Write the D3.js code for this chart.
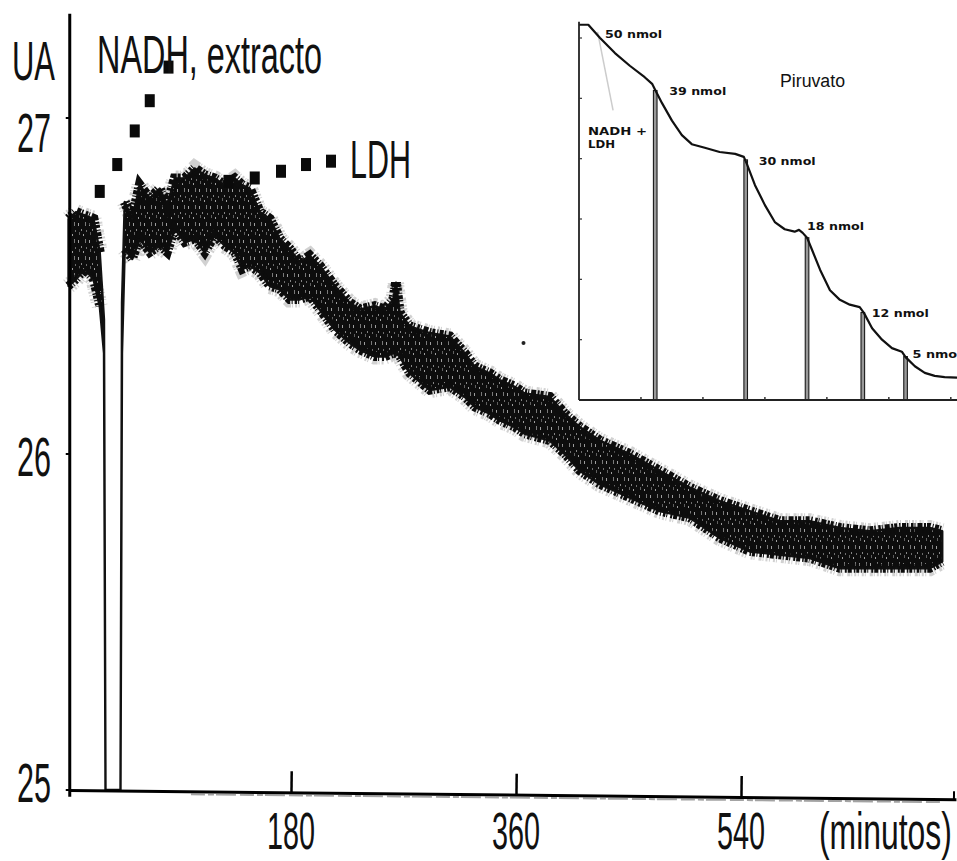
<!DOCTYPE html>
<html>
<head>
<meta charset="utf-8">
<script src="https://cdn.jsdelivr.net/npm/d3@7"></script>
<style>
    html, body { margin: 0; padding: 0; background: #fff; }
    svg { display: block; }
    text { font-family: "Liberation Sans", Arial, sans-serif; fill: #111; }
</style>
</head>
<body>
<div id="chart"></div>
<script>
// main recording: time (minutes), upper and lower edge of the noisy trace (UA)
var traceTime = [2, 8, 15, 22, 27, 30.4, 31.6, 43.6, 44.8, 47, 53, 59, 67, 75, 81, 87, 95, 103, 111,
    119, 127, 135, 141, 147, 155, 163, 171, 179, 187, 195, 203, 215, 227, 235, 247, 255, 262, 264, 267,
    275, 291, 307, 319, 327, 339, 347, 359, 367, 387, 399, 411, 427, 451, 475, 499, 523, 547, 571, 595,
    619, 643, 667, 691, 701];
var traceHigh = [26.70, 26.72, 26.71, 26.70, 26.60, 26.40, 25.00, 25.00, 26.45, 26.75, 26.70, 26.80, 26.76, 26.79,
    26.74, 26.82, 26.82, 26.85, 26.83, 26.82, 26.80, 26.82, 26.80, 26.79, 26.72, 26.70, 26.64, 26.61, 26.57,
    26.59, 26.56, 26.50, 26.45, 26.43, 26.44, 26.43, 26.46, 26.51, 26.42, 26.38, 26.36, 26.35, 26.30, 26.26,
    26.24, 26.22, 26.20, 26.18, 26.17, 26.12, 26.08, 26.04, 26.00, 25.95, 25.90, 25.86, 25.83, 25.80, 25.80,
    25.78, 25.77, 25.78, 25.78, 25.77];
var traceLow = [26.50, 26.52, 26.55, 26.52, 26.44, 26.30, 25.00, 25.00, 26.30, 26.61, 26.58, 26.64, 26.60, 26.62,
    26.60, 26.67, 26.63, 26.64, 26.60, 26.65, 26.62, 26.60, 26.55, 26.56, 26.54, 26.50, 26.49, 26.46, 26.46,
    26.47, 26.43, 26.37, 26.33, 26.31, 26.29, 26.29, 26.30, 26.30, 26.29, 26.24, 26.19, 26.20, 26.17, 26.14,
    26.12, 26.10, 26.08, 26.06, 26.04, 26.00, 25.95, 25.91, 25.87, 25.83, 25.81, 25.75, 25.71, 25.70, 25.69,
    25.66, 25.66, 25.66, 25.66, 25.68];
var strayTime = [366];
var strayValue = [26.33];

// dotted pointers to the additions
var nadhArrowTime = [27, 41, 55, 67, 82];
var nadhArrowValue = [26.78, 26.86, 26.96, 27.05, 27.15];
var ldhArrowTime = [130, 151, 172, 192, 212];
var ldhArrowValue = [26.81, 26.82, 26.84, 26.86, 26.87];

var xTicks = [180, 360, 540];
var yTicks = [25, 26, 27];

// inset: standard curve with pyruvate pulses (axis units = tick intervals)
var insetX = [0, 0.15, 0.34, 0.58, 0.82, 1.06, 1.18, 1.23, 1.34, 1.5, 1.66, 1.82, 2.03, 2.27, 2.52, 2.66,
    2.71, 2.84, 3.0, 3.16, 3.32, 3.48, 3.55, 3.61, 3.68, 3.76, 3.89, 4.05, 4.21, 4.37, 4.53, 4.6, 4.73,
    4.89, 5.05, 5.21, 5.27, 5.42, 5.58, 5.74, 5.9, 6.1];
var insetY = [6.22, 6.22, 6.0, 5.75, 5.54, 5.35, 5.24, 5.14, 4.92, 4.63, 4.39, 4.24, 4.18, 4.11, 4.08, 4.03,
    3.91, 3.56, 3.23, 2.95, 2.83, 2.79, 2.82, 2.77, 2.69, 2.49, 2.16, 1.82, 1.66, 1.58, 1.54, 1.44, 1.19,
    1.0, 0.86, 0.8, 0.71, 0.56, 0.45, 0.4, 0.38, 0.37];
var pulseX = [1.23, 2.69, 3.68, 4.58, 5.27];
var pulseTop = [5.13, 3.98, 2.69, 1.45, 0.72];
var pulseLabels = ["39 nmol", "30 nmol", "18 nmol", "12 nmol", "5 nmol"];
var insetTicks = [1, 2, 3, 4, 5, 6];

// ---- layout ----
var W = 957, H = 861;
var svg = d3.select("#chart").append("svg")
    .attr("width", W).attr("height", H)
    .attr("viewBox", [0, 0, W, H]);

var x = d3.scaleLinear().domain([3, 712]).range([69.75, 956]);
var y = d3.scaleLinear().domain([25, 27]).range([790, 118]);

var defs = svg.append("defs");
var pat = defs.append("pattern")
    .attr("id", "noise")
    .attr("patternUnits", "userSpaceOnUse")
    .attr("width", 11).attr("height", 17);
pat.append("rect").attr("width", 11).attr("height", 17).attr("fill", "#0d0d0d");
[[1, 2, 3, 0.6], [4, 8, 2, 0.5], [8, 1, 4, 0.45], [6, 13, 2, 0.6], [2, 11, 3, 0.35], [9, 9, 2, 0.4]].forEach(function(s) {
    pat.append("rect").attr("x", s[0]).attr("y", s[1]).attr("width", 1).attr("height", s[2])
        .attr("fill", "#fff").attr("opacity", s[3]);
});

// ---- main trace ----
var trace = traceTime.map(function(t, i) { return { t: t, hi: traceHigh[i], lo: traceLow[i] }; });
var area = d3.area()
    .x(function(d) { return x(d.t); })
    .y0(function(d) { return y(d.lo); })
    .y1(function(d) { return y(d.hi); });
// edges are left out round the dip so they do not smear the two thin strokes
var edgeHigh = d3.line()
    .defined(function(d) { return d.t < 29 || d.t > 46; })
    .x(function(d) { return x(d.t); })
    .y(function(d) { return y(d.hi); });
var edgeLow = d3.line()
    .defined(function(d) { return d.t < 29 || d.t > 46; })
    .x(function(d) { return x(d.t); })
    .y(function(d) { return y(d.lo); });

var traceG = svg.append("g").attr("class", "trace");

// grey fuzz round the band
[edgeHigh, edgeLow].forEach(function(gen) {
    traceG.append("path")
        .datum(trace)
        .attr("d", gen)
        .attr("fill", "none")
        .attr("stroke", "#666")
        .attr("stroke-opacity", 0.3)
        .attr("stroke-width", 16)
        .attr("stroke-dasharray", "1 2 2 1.5 1 3 2 1 1 4 3 1");
});

traceG.append("path")
    .datum(trace)
    .attr("d", area)
    .attr("fill", "url(#noise)")
    .attr("stroke", "#111")
    .attr("stroke-width", 2.4)
    .attr("stroke-linejoin", "round");

// ragged dark edges (vertical noise spikes)
[edgeHigh, edgeLow].forEach(function(gen, k) {
    traceG.append("path")
        .datum(trace)
        .attr("d", gen)
        .attr("fill", "none")
        .attr("stroke", "#0d0d0d")
        .attr("stroke-width", k === 0 ? 10 : 9)
        .attr("stroke-dasharray", k === 0 ? "2 1 3 2 1 1.5 4 1 1.5 2.5 2.5 1 1 2 5 1.5" : "3 1.5 1 2 2.5 1 1 3 2 1 4 2 1.5 1");
});

traceG.selectAll("circle.stray")
    .data(strayTime)
    .join("circle")
    .attr("class", "stray")
    .attr("cx", function(d) { return x(d); })
    .attr("cy", function(d, i) { return y(strayValue[i]); })
    .attr("r", 2)
    .attr("fill", "#222");

// ---- dotted pointers ----
function squares(times, values, cls) {
    svg.selectAll("rect." + cls)
        .data(times)
        .join("rect")
        .attr("class", cls)
        .attr("x", function(d) { return x(d) - 5; })
        .attr("y", function(d, i) { return y(values[i]) - 7; })
        .attr("width", 10)
        .attr("height", 13)
        .attr("fill", "#0a0a0a");
}
squares(nadhArrowTime, nadhArrowValue, "nadh");
squares(ldhArrowTime, ldhArrowValue, "ldh");

// ---- axes ----
var y0 = y(25);
var xAxisG = svg.append("g")
    .attr("transform", "translate(0," + y0 + ") rotate(0.6," + x.range()[0] + ",0)")
    .call(d3.axisBottom(x).tickValues(xTicks).tickSizeInner(-21).tickSizeOuter(0).tickFormat(""));
xAxisG.select(".domain").attr("stroke", "#000").attr("stroke-width", 3);
xAxisG.selectAll(".tick line").attr("stroke", "#000").attr("stroke-width", 2.5);
xAxisG.append("line")
    .attr("x1", x(100)).attr("x2", x(700))
    .attr("y1", 3).attr("y2", 3)
    .attr("stroke", "#666").attr("stroke-width", 2)
    .attr("stroke-opacity", 0.6)
    .attr("stroke-dasharray", "14 3 6 2 20 4");
xAxisG.append("line")
    .attr("x1", x.range()[1] - 2).attr("x2", x.range()[1] - 2)
    .attr("y1", -8).attr("y2", 0)
    .attr("stroke", "#000").attr("stroke-width", 2);

svg.append("line")
    .attr("x1", x.range()[0]).attr("x2", x.range()[0])
    .attr("y1", y(27.31)).attr("y2", y(24.98))
    .attr("stroke", "#000").attr("stroke-width", 3);

svg.selectAll("line.ytick")
    .data(yTicks)
    .join("line")
    .attr("class", "ytick")
    .attr("x1", x.range()[0] - 4).attr("x2", x.range()[0])
    .attr("y1", function(d) { return y(d); })
    .attr("y2", function(d) { return y(d); })
    .attr("stroke", "#000").attr("stroke-width", 2);

var bigFont = 56;
var yLabelDy = [12, 22, 34];
svg.selectAll("text.ylab")
    .data(yTicks)
    .join("text")
    .attr("class", "ylab")
    .attr("x", 51)
    .attr("y", function(d, i) { return y(d) + yLabelDy[i]; })
    .attr("text-anchor", "end")
    .attr("textLength", 34)
    .attr("lengthAdjust", "spacingAndGlyphs")
    .style("font-size", bigFont + "px")
    .text(function(d) { return d; });

svg.append("text")
    .attr("x", 12).attr("y", 80)
    .attr("textLength", 43)
    .attr("lengthAdjust", "spacingAndGlyphs")
    .style("font-size", bigFont + "px")
    .text("UA");

svg.selectAll("text.xlab")
    .data(xTicks)
    .join("text")
    .attr("class", "xlab")
    .attr("x", function(d) { return x(d); })
    .attr("y", 849)
    .attr("text-anchor", "middle")
    .attr("textLength", 48)
    .attr("lengthAdjust", "spacingAndGlyphs")
    .style("font-size", "51px")
    .text(function(d) { return d; });

// narrow glyphs by a plain horizontal scale so the unit stays inside the page
svg.append("text")
    .attr("transform", "translate(819,849) scale(0.625,1)")
    .style("font-size", "51px")
    .text("(minutos)");

svg.append("text")
    .attr("x", 97).attr("y", 73)
    .attr("textLength", 225)
    .attr("lengthAdjust", "spacingAndGlyphs")
    .style("font-size", "54px")
    .text("NADH, extracto");

svg.append("text")
    .attr("x", 350).attr("y", 178)
    .attr("textLength", 61)
    .attr("lengthAdjust", "spacingAndGlyphs")
    .style("font-size", "54px")
    .text("LDH");

// ---- inset ----
var ix = d3.scaleLinear().domain([0, 6.1]).range([579, 957]);
var iy = d3.scaleLinear().domain([0, 6]).range([400, 38]);
var inset = svg.append("g").attr("class", "inset");

inset.append("rect")
    .attr("x", ix(0)).attr("y", iy(6.3))
    .attr("width", ix(6.1) - ix(0)).attr("height", iy(0) - iy(6.3))
    .attr("fill", "#fff");

inset.append("line")
    .attr("x1", ix(0.3)).attr("y1", iy(6.1))
    .attr("x2", ix(0.55)).attr("y2", iy(4.8))
    .attr("stroke", "#ccc").attr("stroke-width", 1.5);

inset.selectAll("rect.pulse")
    .data(pulseX)
    .join("rect")
    .attr("class", "pulse")
    .attr("x", function(d) { return ix(d) - 1.8; })
    .attr("y", function(d, i) { return iy(pulseTop[i]); })
    .attr("width", 3.6)
    .attr("height", function(d, i) { return iy(0) - iy(pulseTop[i]); })
    .attr("fill", "#999")
    .attr("stroke", "#1a1a1a")
    .attr("stroke-width", 1.1);

var curve = insetX.map(function(v, i) { return [v, insetY[i]]; });
inset.append("path")
    .datum(curve)
    .attr("d", d3.line().x(function(d) { return ix(d[0]); }).y(function(d) { return iy(d[1]); }))
    .attr("fill", "none")
    .attr("stroke", "#111")
    .attr("stroke-width", 2.2)
    .attr("stroke-linejoin", "round");

inset.append("line")
    .attr("x1", ix(0)).attr("x2", ix(0))
    .attr("y1", iy(6.27)).attr("y2", iy(0))
    .attr("stroke", "#222").attr("stroke-width", 1.8);
inset.append("line")
    .attr("x1", ix(0)).attr("x2", ix(6.1))
    .attr("y1", iy(0)).attr("y2", iy(0))
    .attr("stroke", "#222").attr("stroke-width", 1.8);

inset.selectAll("line.iyt")
    .data(insetTicks)
    .join("line")
    .attr("class", "iyt")
    .attr("x1", ix(0)).attr("x2", ix(0) + 3)
    .attr("y1", function(d) { return iy(d); })
    .attr("y2", function(d) { return iy(d); })
    .attr("stroke", "#333").attr("stroke-width", 1.2);
inset.selectAll("line.ixt")
    .data(insetTicks)
    .join("line")
    .attr("class", "ixt")
    .attr("x1", function(d) { return ix(d); })
    .attr("x2", function(d) { return ix(d); })
    .attr("y1", iy(0)).attr("y2", iy(0) - 3)
    .attr("stroke", "#333").attr("stroke-width", 1.5);

var smallStyle = function(sel) {
    sel.style("font-family", "'DejaVu Sans', Verdana, sans-serif")
        .style("font-weight", "bold")
        .style("font-size", "10px")
        .attr("lengthAdjust", "spacingAndGlyphs");
};

// offsets of each pulse label from the top of its pulse
var pulseLabelDx = [14, 13, 0, 9, 7];
var pulseLabelDy = [5, 5, -8, 4, 1];
inset.selectAll("text.plab")
    .data(pulseLabels)
    .join("text")
    .attr("class", "plab")
    .attr("x", function(d, i) { return ix(pulseX[i]) + pulseLabelDx[i]; })
    .attr("y", function(d, i) { return iy(pulseTop[i]) + pulseLabelDy[i]; })
    .attr("textLength", function(d) { return d.length === 7 ? 57 : 49; })
    .call(smallStyle)
    .text(function(d) { return d; });

inset.append("text")
    .attr("x", 605).attr("y", 38)
    .attr("textLength", 57)
    .call(smallStyle)
    .text("50 nmol");

inset.append("text")
    .attr("x", 588).attr("y", 135)
    .attr("textLength", 59)
    .call(smallStyle)
    .text("NADH +");
inset.append("text")
    .attr("x", 588).attr("y", 148)
    .attr("textLength", 27)
    .call(smallStyle)
    .text("LDH");

inset.append("text")
    .attr("x", 780).attr("y", 87)
    .attr("textLength", 65)
    .attr("lengthAdjust", "spacingAndGlyphs")
    .style("font-size", "18px")
    .text("Piruvato");
</script>
</body>
</html>
